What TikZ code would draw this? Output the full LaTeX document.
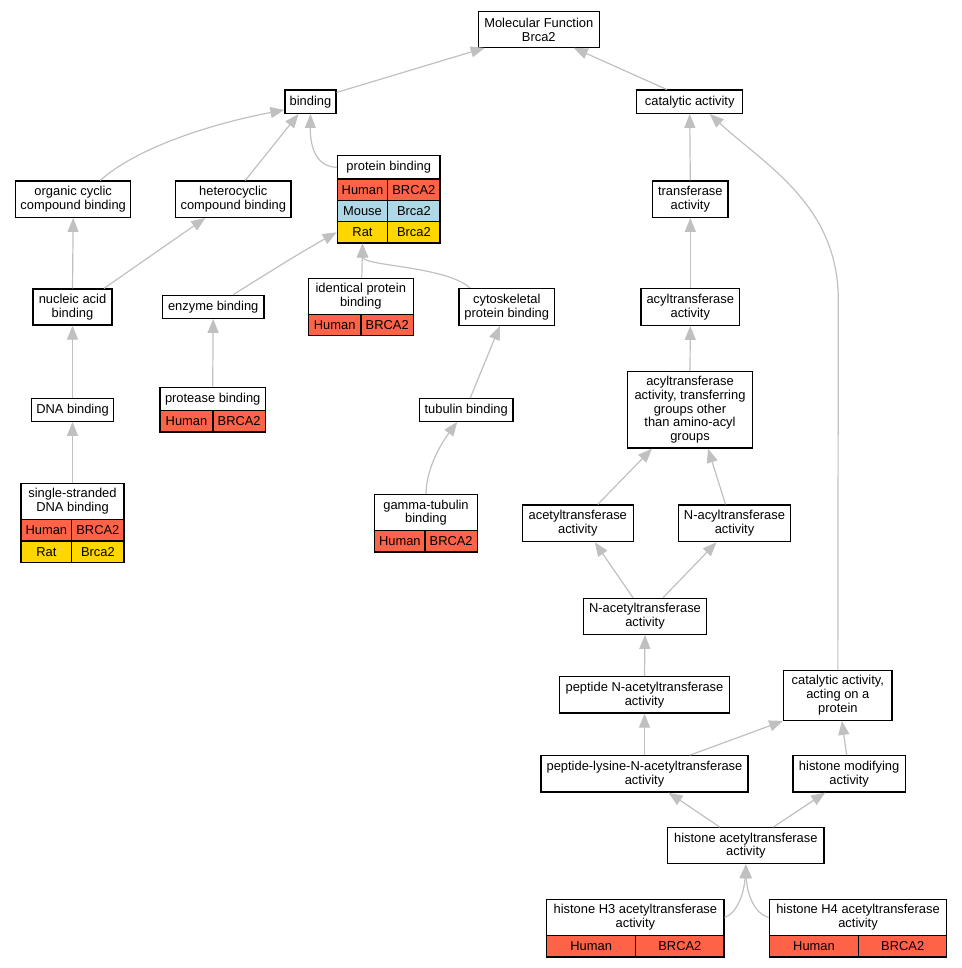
\documentclass[tikz,border=0pt]{standalone}
\usepackage{fontspec}
\setmainfont{Liberation Sans}
\usetikzlibrary{arrows.meta}
\definecolor{hum}{HTML}{FF6347}
\definecolor{mou}{HTML}{ADD8E6}
\definecolor{rat}{HTML}{FFD700}
\definecolor{egray}{HTML}{C0C0C0}
\newcommand{\fsz}{\fontsize{12.9}{13.9}\selectfont}
\tikzset{
  box/.style={draw=black, line width=1.2pt, fill=white, inner sep=0pt, align=center, font=\fsz},
  cell/.style={draw=black, line width=1.2pt, inner sep=0pt, align=center, font=\fsz},
  hcell/.style={cell, fill=hum},
  mcell/.style={cell, fill=mou},
  rcell/.style={cell, fill=rat},
  edge/.style={draw=egray, line width=1.2pt, -{Triangle[length=14pt,width=11pt]}, color=egray}
}
\begin{document}
\begin{tikzpicture}[x=1pt,y=-1pt]
\useasboundingbox (0,0) rectangle (961,968);
% plain boxes
\node[box, minimum width=121pt, minimum height=35.6pt] (mf) at (538.8,29.5) {Molecular Function\\Brca2};
\node[box, minimum width=51pt, minimum height=23.3pt] (bind) at (310.5,101.7) {binding};
\node[box, minimum width=106pt, minimum height=23.3pt] (cat) at (689.7,101.7) {catalytic activity};
\node[box, minimum width=115pt, minimum height=36.3pt] (occ) at (73.2,199.2) {organic cyclic\\compound binding};
\node[box, minimum width=115.3pt, minimum height=36.3pt] (hcc) at (233.3,199.2) {heterocyclic\\compound binding};
\node[box, minimum width=75.3pt, minimum height=36.3pt] (trans) at (690.3,199.2) {transferase\\activity};
\node[box, minimum width=79pt, minimum height=36pt] (nab) at (72.5,307) {nucleic acid\\binding};
\node[box, minimum width=101.7pt, minimum height=23pt] (enz) at (213.2,306.8) {enzyme binding};
\node[box, minimum width=95.7pt, minimum height=37pt] (cyto) at (506.8,306.8) {cytoskeletal\\protein binding};
\node[box, minimum width=98.7pt, minimum height=37pt] (acyl) at (690.3,306.8) {acyltransferase\\activity};
\node[box, minimum width=81.6pt, minimum height=22.6pt] (dna) at (72.5,410) {DNA binding};
\node[box, minimum width=93.7pt, minimum height=22.6pt] (tub) at (466.2,410) {tubulin binding};
\node[box, minimum width=124.6pt, minimum height=76.7pt] (acyltr) at (690,409.7) {acyltransferase\\activity, transferring\\groups other\\than amino-acyl\\groups};
\node[box, minimum width=111pt, minimum height=36.7pt] (acet) at (577.8,523.3) {acetyltransferase\\activity};
\node[box, minimum width=112.4pt, minimum height=36.7pt] (nacyl) at (734.5,523.3) {N-acyltransferase\\activity};
\node[box, minimum width=123.4pt, minimum height=36pt] (nacet) at (645,616.3) {N-acetyltransferase\\activity};
\node[box, minimum width=169.6pt, minimum height=36.3pt] (pna) at (644.5,694.85) {peptide N-acetyltransferase\\activity};
\node[box, minimum width=108.3pt, minimum height=49.6pt] (cap) at (837.85,695.5) {catalytic activity,\\acting on a\\protein};
\node[box, minimum width=207pt, minimum height=36.3pt] (pl) at (644.5,773.85) {peptide-lysine-N-acetyltransferase\\activity};
\node[box, minimum width=112.3pt, minimum height=36.3pt] (hm) at (849.15,773.85) {histone modifying\\activity};
\node[box, minimum width=156.3pt, minimum height=36pt] (hat) at (745.85,845.7) {histone acetyltransferase\\activity};
% protein binding table
\node[box, minimum width=102.7pt, minimum height=23.3pt] (pb) at (388.7,167.3) {protein binding};
\node[hcell, minimum width=50.4pt, minimum height=21.3pt] (pbh1) at (362.5,189.7) {Human};
\node[hcell, minimum width=52.3pt, minimum height=21.3pt] (pbh2) at (413.85,189.7) {BRCA2};
\node[mcell, minimum width=50.4pt, minimum height=21.3pt] (pbm1) at (362.5,211) {Mouse};
\node[mcell, minimum width=52.3pt, minimum height=21.3pt] (pbm2) at (413.85,211) {Brca2};
\node[rcell, minimum width=50.4pt, minimum height=21.3pt] (pbr1) at (362.5,232.3) {Rat};
\node[rcell, minimum width=52.3pt, minimum height=21.3pt] (pbr2) at (413.85,232.3) {Brca2};
% identical protein binding
\node[box, minimum width=105pt, minimum height=36pt] (ipb) at (360.8,296.3) {identical protein\\binding};
\node[hcell, minimum width=52.7pt, minimum height=21.4pt] (ipbh1) at (334.7,325) {Human};
\node[hcell, minimum width=52.3pt, minimum height=21.4pt] (ipbh2) at (387.2,325) {BRCA2};
% protease binding
\node[box, minimum width=105.3pt, minimum height=23.4pt] (prot) at (212.7,399) {protease binding};
\node[hcell, minimum width=53pt, minimum height=21.3pt] (proth1) at (186.5,421.35) {Human};
\node[hcell, minimum width=52.3pt, minimum height=21.3pt] (proth2) at (239.15,421.35) {BRCA2};
% single-stranded DNA binding
\node[box, minimum width=103pt, minimum height=35.6pt] (ss) at (72.5,501.5) {single-stranded\\DNA binding};
\node[hcell, minimum width=50.7pt, minimum height=21.7pt] (ssh1) at (46.35,530.2) {Human};
\node[hcell, minimum width=52.3pt, minimum height=21.7pt] (ssh2) at (97.85,530.2) {BRCA2};
\node[rcell, minimum width=50.7pt, minimum height=21.7pt] (ssr1) at (46.35,551.9) {Rat};
\node[rcell, minimum width=52.3pt, minimum height=21.7pt] (ssr2) at (97.85,551.9) {Brca2};
% gamma-tubulin binding
\node[box, minimum width=102.6pt, minimum height=36pt] (gam) at (426,512.7) {gamma-tubulin\\binding};
\node[hcell, minimum width=50.3pt, minimum height=21.3pt] (gamh1) at (399.85,541.35) {Human};
\node[hcell, minimum width=52.3pt, minimum height=21.3pt] (gamh2) at (451.15,541.35) {BRCA2};
% histone H3
\node[box, minimum width=177.3pt, minimum height=36.4pt] (h3) at (635.35,917.5) {histone H3 acetyltransferase\\activity};
\node[hcell, minimum width=89pt, minimum height=21.3pt] (h3h1) at (591.2,946.35) {Human};
\node[hcell, minimum width=88.3pt, minimum height=21.3pt] (h3h2) at (679.85,946.35) {BRCA2};
% histone H4
\node[box, minimum width=177.4pt, minimum height=36.4pt] (h4) at (858,917.5) {histone H4 acetyltransferase\\activity};
\node[hcell, minimum width=89.4pt, minimum height=21.3pt] (h4h1) at (814,946.35) {Human};
\node[hcell, minimum width=88pt, minimum height=21.3pt] (h4h2) at (902.7,946.35) {BRCA2};
% edges
\draw[edge] ([yshift=-3pt]bind.north east) -- ([xshift=7pt]mf.south west);
\draw[edge] ([xshift=-23pt]cat.north) -- ([xshift=35pt]mf.south);
\draw[edge] ([xshift=27pt]occ.north) .. controls (140,145) and (220,122) .. ([yshift=4pt]bind.south west);
\draw[edge] ([xshift=12pt]hcc.north) -- ([xshift=-12pt]bind.south);
\draw[edge] (pb.west) .. controls (318,167) and (310,150) .. (bind.south);
\draw[edge] (trans.north) -- (cat.south);
\draw[edge] (cap.north) -- (838.3,300) .. controls (838.3,205) and (765,165) .. ([xshift=20pt]cat.south);
\draw[edge] (nab.north) -- (occ.south);
\draw[edge] ([xshift=31.5pt]nab.north) -- ([xshift=-28pt]hcc.south);
\draw[edge] ([xshift=20pt]enz.north) .. controls (285,262) and (312,246) .. (pbr1.west);
\draw[edge] ([xshift=1pt]ipb.north) -- (pbr1.south);
\draw[edge] ([xshift=-37pt]cyto.north) .. controls (445,266) and (363,266) .. (pbr1.south);
\draw[edge] (acyl.north) -- (trans.south);
\draw[edge] (prot.north) -- (enz.south);
\draw[edge] (dna.north) -- (nab.south);
\draw[edge] ([xshift=4pt]tub.north) -- ([xshift=-7pt]cyto.south);
\draw[edge] (acyltr.north) -- (acyl.south);
\draw[edge] (ss.north) -- (dna.south);
\draw[edge] (gam.north) .. controls (426,470) and (440,445) .. ([xshift=-9pt]tub.south);
\draw[edge] ([xshift=20pt]acet.north) -- ([xshift=-38pt]acyltr.south);
\draw[edge] ([xshift=-9pt]nacyl.north) -- ([xshift=18pt]acyltr.south);
\draw[edge] ([xshift=-12pt]nacet.north) -- ([xshift=17pt]acet.south);
\draw[edge] ([xshift=18pt]nacet.north) -- ([xshift=-18pt]nacyl.south);
\draw[edge] (pna.north) -- (nacet.south);
\draw[edge] (pl.north) -- (pna.south);
\draw[edge] ([xshift=45.5pt]pl.north) -- (cap.south west);
\draw[edge] ([xshift=-2.5pt]hm.north) -- ([xshift=4pt]cap.south);
\draw[edge] ([xshift=-26pt]hat.north) -- ([xshift=24pt]pl.south);
\draw[edge] ([xshift=27.5pt]hat.north) -- ([xshift=-24pt]hm.south);
\draw[edge] (h3.east) .. controls (736,914) and (744,895) .. (hat.south);
\draw[edge] (h4.west) .. controls (755,914) and (747,895) .. (hat.south);
\end{tikzpicture}
\end{document}
